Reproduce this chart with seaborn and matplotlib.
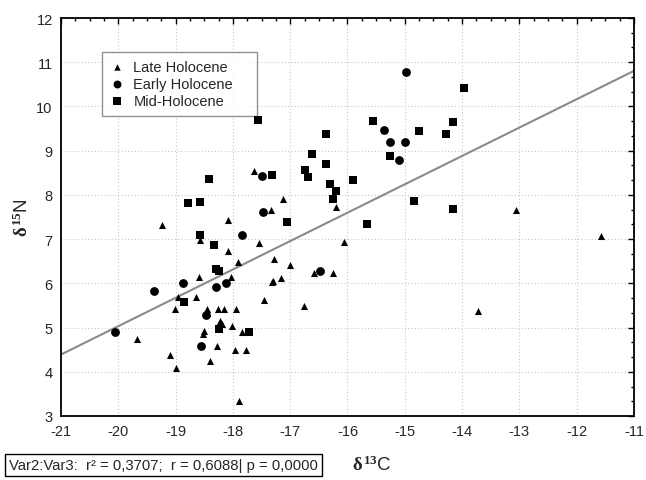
import numpy as np
import pandas as pd
import matplotlib
matplotlib.use("Agg")
import matplotlib.pyplot as plt
from matplotlib.ticker import MultipleLocator
import seaborn as sns

# d13C / d15N values, per period
late_x = [-17.63, -19.24, -18.09, -18.57, -18.09, -17.54, -17.91, -18.60, -18.03, -17.32,
          -18.96, -18.64, -17.46, -19.01, -18.45, -18.45, -18.26, -18.16, -17.95, -18.23,
          -18.19, -18.02, -17.84, -19.67, -18.50, -18.52, -18.28, -17.96, -17.77, -19.10,
          -18.99, -18.40, -17.89, -17.13, -17.34, -16.20, -16.06, -17.28, -17.00, -16.58,
          -16.25, -17.30, -17.16, -16.76, -13.06, -11.58, -13.72]
late_y = [8.54, 7.32, 7.43, 6.98, 6.73, 6.91, 6.48, 6.14, 6.14, 6.03,
          5.69, 5.69, 5.62, 5.42, 5.42, 5.33, 5.42, 5.42, 5.42, 5.15,
          5.08, 5.04, 4.90, 4.74, 4.92, 4.86, 4.58, 4.49, 4.49, 4.38,
          4.09, 4.24, 3.34, 7.91, 7.66, 7.73, 6.94, 6.55, 6.42, 6.24,
          6.24, 6.05, 6.12, 5.49, 7.66, 7.07, 5.38]

early_x = [-17.49, -17.84, -17.47, -18.87, -18.30, -18.12, -19.38, -18.47, -20.06, -18.56,
           -16.48, -14.98, -15.36, -15.26, -14.99, -15.10]
early_y = [8.43, 7.09, 7.62, 6.01, 5.92, 6.01, 5.83, 5.29, 4.90, 4.58,
           6.28, 10.78, 9.47, 9.20, 9.20, 8.79]

mid_x = [-18.42, -18.78, -18.57, -18.57, -18.33, -18.30, -18.24, -18.85, -18.24, -17.72,
         -17.56, -15.55, -14.75, -16.38, -16.62, -16.38, -15.26, -17.32, -16.74, -16.69,
         -15.90, -16.31, -16.20, -16.25, -14.84, -17.06, -15.66, -13.97, -14.16, -14.28,
         -14.16]
mid_y = [8.36, 7.82, 7.84, 7.09, 6.87, 6.33, 6.28, 5.58, 4.97, 4.90,
         9.70, 9.67, 9.45, 9.38, 8.93, 8.70, 8.88, 8.45, 8.57, 8.41,
         8.34, 8.25, 8.09, 7.91, 7.86, 7.39, 7.34, 10.42, 9.65, 9.38,
         7.68]

df = pd.concat([
    pd.DataFrame({"d13C": late_x, "d15N": late_y, "period": "Late Holocene"}),
    pd.DataFrame({"d13C": early_x, "d15N": early_y, "period": "Early Holocene"}),
    pd.DataFrame({"d13C": mid_x, "d15N": mid_y, "period": "Mid-Holocene"}),
], ignore_index=True)

sns.set_style("white")
plt.rcParams["font.family"] = ["Liberation Sans", "DejaVu Sans"]
plt.rcParams["axes.unicode_minus"] = False
plt.rcParams["mathtext.fontset"] = "custom"
plt.rcParams["mathtext.rm"] = "Liberation Serif:bold"
plt.rcParams["mathtext.it"] = "Liberation Serif:bold"
plt.rcParams["mathtext.bf"] = "Liberation Serif:bold"

fig = plt.figure(figsize=(6.46, 4.81), dpi=100)
ax = fig.add_axes([61 / 646, 1 - 417 / 481, 573 / 646, 398 / 481])
ax.set_xlim(-21, -11)
ax.set_ylim(3, 12)

# fitted line over all points, drawn across the whole x range
sns.regplot(data=df, x="d13C", y="d15N", scatter=False, ci=None, truncate=False,
            line_kws={"color": "#8a8a8a", "lw": 1.5}, ax=ax)

markers = {"Late Holocene": ("^", 26), "Early Holocene": ("o", 40), "Mid-Holocene": ("s", 34)}
for name, (m, s) in markers.items():
    sub = df[df["period"] == name]
    sns.scatterplot(data=sub, x="d13C", y="d15N", marker=m, s=s, color="black",
                    edgecolor="black", linewidth=0, label=name, ax=ax, zorder=3)

ax.set_xlim(-21, -11)
ax.set_ylim(3, 12)
ax.xaxis.set_major_locator(MultipleLocator(1))
ax.xaxis.set_minor_locator(MultipleLocator(0.25))
ax.yaxis.set_major_locator(MultipleLocator(1))
ax.yaxis.set_minor_locator(MultipleLocator(1 / 3))
ax.tick_params(which="both", direction="in", top=True, right=True, color="black",
               labelsize=10.5, width=1)
ax.tick_params(which="major", length=4, pad=6)
ax.tick_params(which="minor", length=2.5)
ax.grid(True, which="major", linestyle=(0, (1, 2)), color="#c8c8c8", lw=0.8)
for sp in ax.spines.values():
    sp.set_color("black")
    sp.set_linewidth(1.3)

ax.set_xlabel("")
ax.set_ylabel(r"$\delta^{15}$N", fontsize=13.5, labelpad=3)

leg = ax.legend(loc="upper left", bbox_to_anchor=(41 / 573, 1 - 116 / 398 + 19 / 398, 155 / 573, 63 / 398),
                mode="expand", borderaxespad=0, frameon=True, fancybox=False,
                edgecolor="#777777", fontsize=10.5, handletextpad=0.6, borderpad=0.55,
                labelspacing=0.2, handlelength=1.0, markerscale=0.9)
leg.get_frame().set_linewidth(1.0)
leg.set_zorder(2)

fig.text(9 / 646, 1 - 466 / 481, "Var2:Var3:  r² = 0,3707;  r = 0,6088| p = 0,0000",
         fontsize=10.7, va="center", ha="left",
         bbox=dict(boxstyle="square,pad=0.3", fc="white", ec="black", lw=1))
fig.text(352 / 646, 1 - 465 / 481, r"$\delta^{13}$C", fontsize=13.5, va="center", ha="left")

fig.savefig("out.png", dpi=100)
